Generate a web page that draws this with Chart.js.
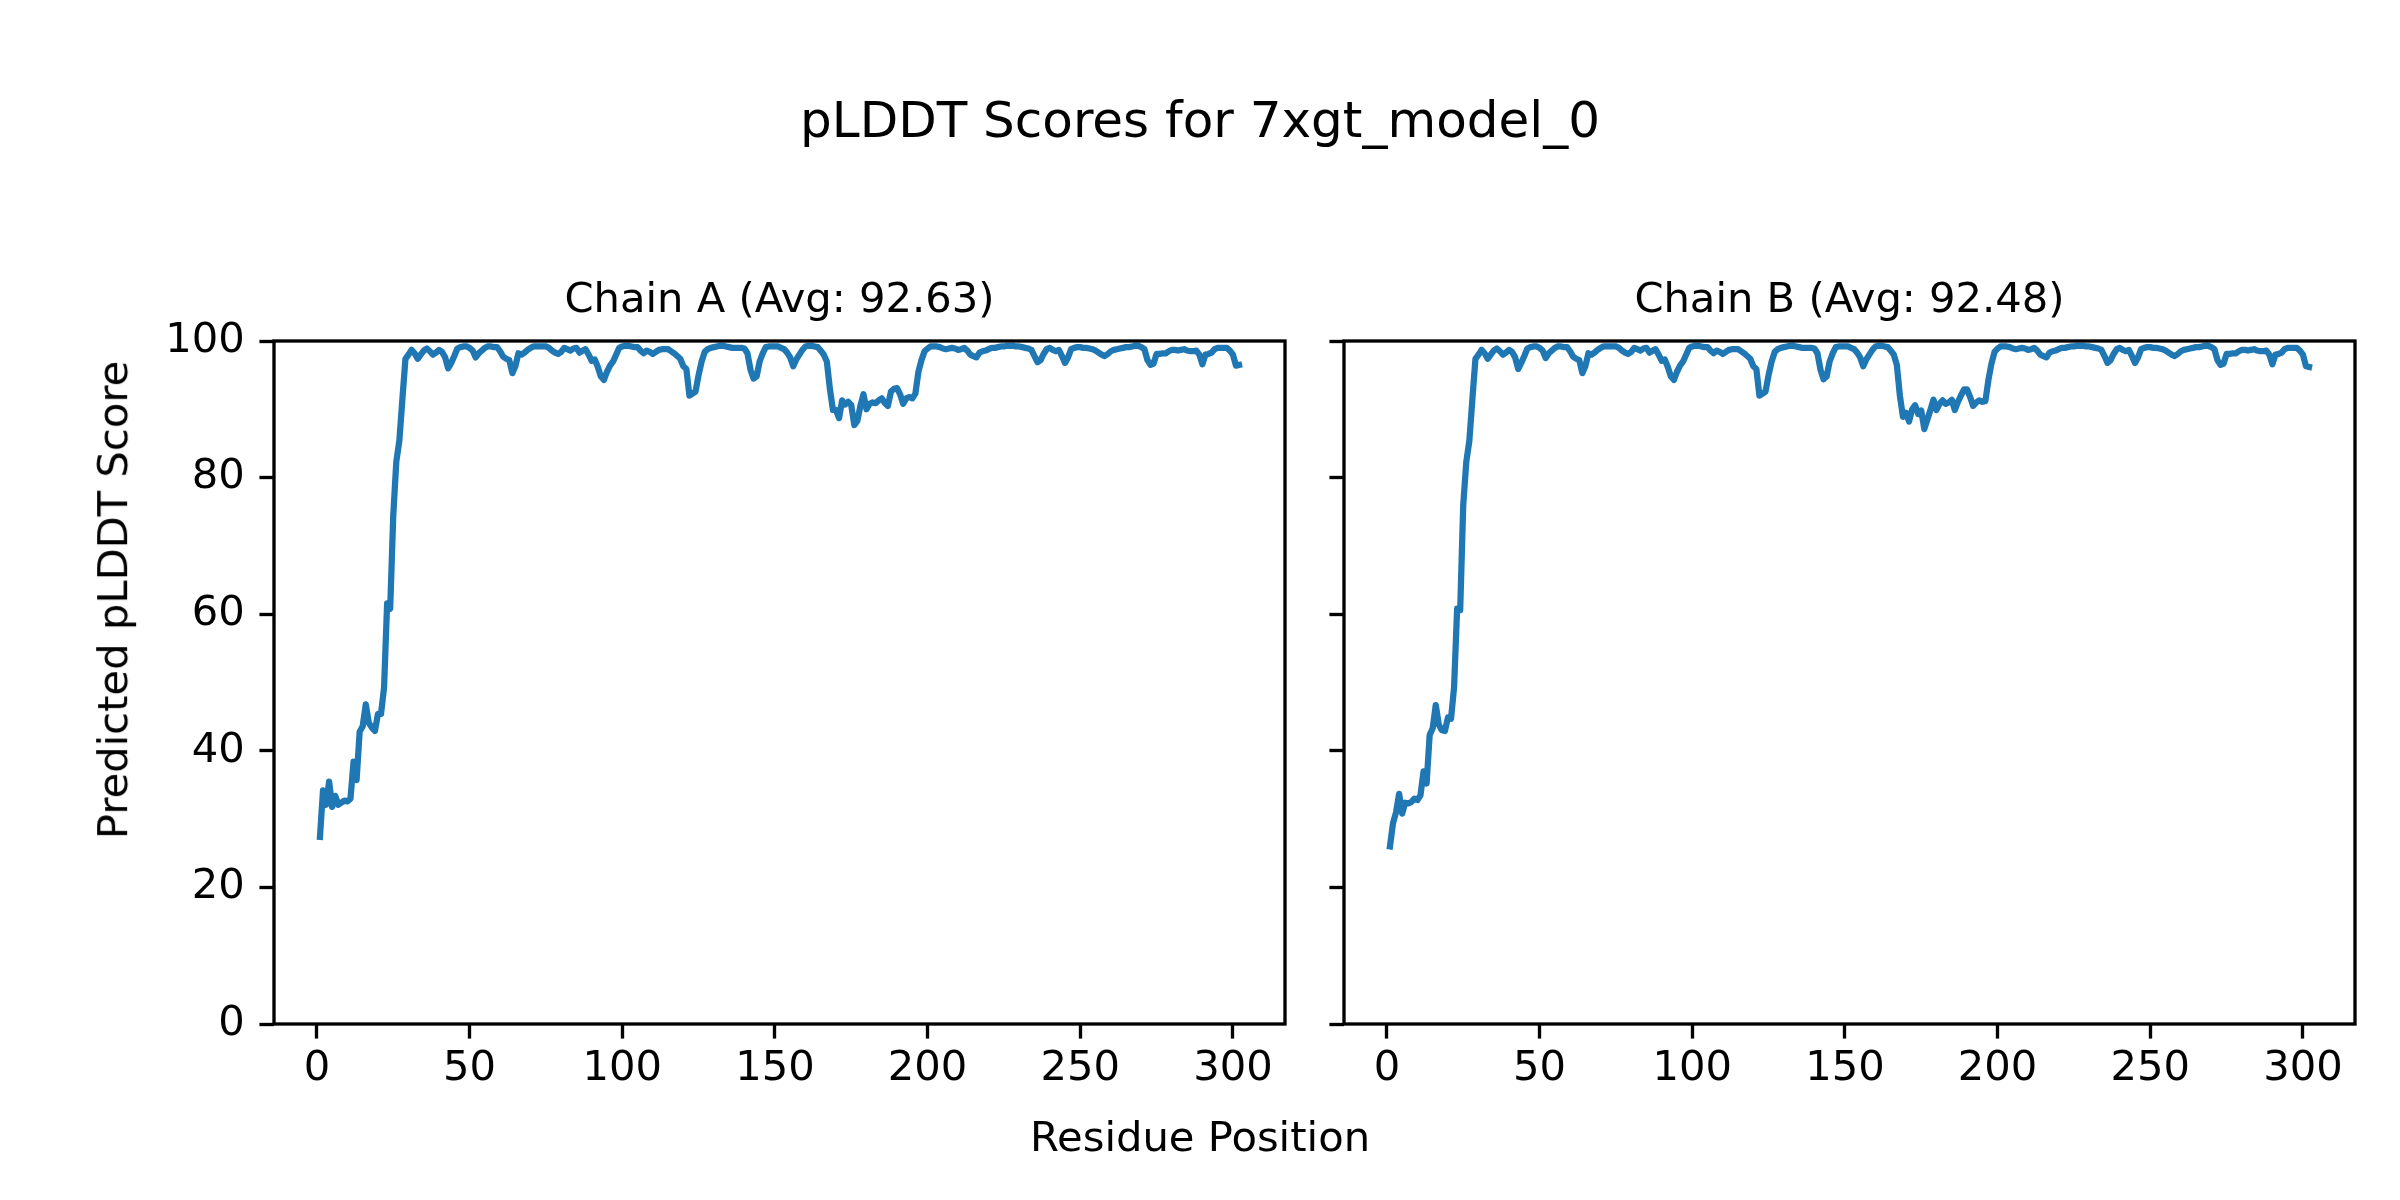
<!DOCTYPE html>
<html>
<head>
<meta charset="utf-8">
<title>pLDDT Scores for 7xgt_model_0</title>
<script src="https://cdn.jsdelivr.net/npm/chart.js@4.4.1/dist/chart.umd.min.js"></script>
<style>
  html, body { margin: 0; padding: 0; background: #fff; overflow: hidden; }
  #page { position: relative; width: 2400px; height: 1200px; font-family: 'DejaVu Sans', sans-serif; color: #000; }
  canvas { position: absolute; top: 0; }
  .txt { position: absolute; white-space: nowrap; }
</style>
</head>
<body>
<div id="page">
  <canvas id="chainA" width="1415" height="1200" style="left:0px;width:1415px;height:1200px"></canvas>
  <canvas id="chainB" width="1099" height="1200" style="left:1300px;width:1099px;height:1200px"></canvas>
  <div class="txt" id="supTitle" style="left:0;width:2400px;top:94.7px;text-align:center;font-size:50px;line-height:50px"></div>
  <div class="txt" id="supX" style="left:0;width:2400px;top:1115.7px;text-align:center;font-size:41.7px;line-height:41.7px"></div>
  <div class="txt" id="supY" style="left:113px;top:600px;font-size:41.7px;line-height:41.7px;transform:translate(-50%,-50%) rotate(-90deg)"></div>
</div>
<script>
// --- Data ---
const figureTitle = 'pLDDT Scores for 7xgt_model_0';
const xLabel = 'Residue Position';
const yLabel = 'Predicted pLDDT Score';
const chainTitles = ['Chain A (Avg: 92.63)', 'Chain B (Avg: 92.48)'];
const residueTicks = [0, 50, 100, 150, 200, 250, 300];
const scoreTicks = [0, 20, 40, 60, 80, 100];

// pLDDT per residue, residue 1..302
const chainA = [
  27.4, 34.2, 32.1, 35.5, 31.8, 33.4, 32.1, 32.4, 32.7, 32.6, // 1-10
  33.0, 38.4, 35.7, 42.8, 43.6, 46.8, 44.1, 43.4, 42.9, 45.4,
  45.4, 49.3, 61.6, 60.8, 74.4, 82.3, 85.4, 91.5, 97.4, 98.0,
  98.7, 98.2, 97.4, 98.0, 98.6, 98.9, 98.5, 98.0, 98.3, 98.7,
  98.4, 97.6, 96.0, 96.8, 97.8, 98.9, 99.1, 99.2, 99.2, 99.0, // 41-50
  98.6, 97.6, 98.2, 98.6, 99.0, 99.2, 99.2, 99.1, 99.1, 98.5,
  97.7, 97.4, 97.2, 95.3, 96.3, 98.2, 98.0, 98.3, 98.7, 99.0,
  99.2, 99.2, 99.2, 99.2, 99.2, 99.0, 98.6, 98.3, 98.1, 98.4,
  99.0, 98.8, 98.6, 98.9, 99.0, 98.3, 98.6, 98.8, 98.0, 97.1,
  97.3, 96.2, 94.8, 94.3, 95.5, 96.4, 97.0, 98.0, 99.0, 99.2, // 91-100
  99.3, 99.3, 99.2, 99.1, 99.1, 98.6, 98.2, 98.6, 98.4, 98.1,
  98.4, 98.7, 98.8, 98.8, 98.8, 98.5, 98.2, 97.8, 97.4, 96.3,
  95.9, 92.0, 92.3, 92.6, 95.0, 97.0, 98.4, 98.8, 99.0, 99.1,
  99.2, 99.3, 99.3, 99.2, 99.1, 99.0, 99.0, 99.0, 99.0, 98.9,
  98.2, 95.8, 94.5, 94.8, 97.0, 98.2, 99.1, 99.2, 99.2, 99.2, // 141-150
  99.2, 99.0, 98.8, 98.3, 97.6, 96.3, 97.3, 98.0, 98.7, 99.2,
  99.3, 99.3, 99.2, 99.1, 98.6, 98.0, 97.0, 93.0, 89.9, 89.9,
  88.7, 91.3, 90.7, 91.1, 90.6, 87.7, 88.3, 90.5, 92.2, 90.0,
  90.8, 91.0, 90.9, 91.3, 91.6, 90.9, 90.5, 92.6, 93.0, 93.1,
  92.2, 90.8, 91.6, 91.8, 91.6, 92.3, 95.5, 97.2, 98.5, 98.9, // 191-200
  99.2, 99.2, 99.2, 99.1, 98.9, 98.8, 98.9, 99.0, 98.9, 98.7,
  98.8, 99.0, 98.6, 98.0, 97.8, 97.6, 98.3, 98.5, 98.6, 98.8,
  99.0, 99.0, 99.1, 99.2, 99.2, 99.3, 99.3, 99.3, 99.2, 99.2,
  99.1, 99.0, 98.9, 98.7, 97.8, 96.9, 97.2, 98.1, 98.8, 99.0,
  98.7, 98.5, 98.7, 97.8, 96.8, 97.6, 98.8, 99.0, 99.1, 99.1, // 241-250
  99.0, 99.0, 98.9, 98.8, 98.6, 98.3, 98.0, 97.8, 98.1, 98.5,
  98.7, 98.8, 98.9, 99.0, 99.1, 99.1, 99.2, 99.3, 99.3, 99.1,
  98.8, 97.2, 96.5, 96.7, 98.1, 98.1, 98.2, 98.2, 98.5, 98.7,
  98.7, 98.6, 98.7, 98.8, 98.6, 98.5, 98.5, 98.6, 98.0, 96.6,
  98.0, 98.1, 98.3, 98.8, 99.0, 99.0, 99.0, 99.0, 98.6, 98.0, // 291-300
  96.4, 96.5
];

const chainB = [
  26.0, 29.4, 31.0, 33.7, 30.8, 32.4, 32.3, 32.5, 33.0, 32.8, // 1-10
  33.5, 37.0, 35.2, 42.3, 43.3, 46.7, 43.8, 43.0, 42.9, 44.9,
  44.7, 49.3, 60.8, 60.6, 76.0, 82.3, 85.4, 91.5, 97.4, 98.0,
  98.7, 98.2, 97.4, 98.0, 98.6, 98.9, 98.5, 98.0, 98.3, 98.7,
  98.4, 97.6, 95.9, 96.8, 97.8, 98.9, 99.1, 99.2, 99.2, 99.0, // 41-50
  98.6, 97.5, 98.2, 98.6, 99.0, 99.2, 99.2, 99.1, 99.1, 98.5,
  97.7, 97.4, 97.2, 95.3, 96.3, 98.2, 98.0, 98.3, 98.7, 99.0,
  99.2, 99.2, 99.2, 99.2, 99.2, 99.0, 98.6, 98.3, 98.1, 98.4,
  99.0, 98.8, 98.6, 98.9, 99.0, 98.3, 98.6, 98.8, 98.0, 97.1,
  97.3, 96.2, 94.8, 94.3, 95.5, 96.4, 97.0, 98.0, 99.0, 99.2, // 91-100
  99.3, 99.3, 99.2, 99.1, 99.1, 98.6, 98.2, 98.6, 98.4, 98.1,
  98.4, 98.7, 98.8, 98.8, 98.8, 98.5, 98.2, 97.8, 97.4, 96.3,
  95.9, 92.0, 92.3, 92.6, 95.0, 97.0, 98.4, 98.8, 99.0, 99.1,
  99.2, 99.3, 99.3, 99.2, 99.1, 99.0, 99.0, 99.0, 99.0, 98.9,
  98.2, 95.8, 94.4, 94.8, 97.0, 98.2, 99.1, 99.2, 99.2, 99.2, // 141-150
  99.2, 99.0, 98.8, 98.3, 97.6, 96.3, 97.3, 98.0, 98.7, 99.2,
  99.3, 99.3, 99.2, 99.1, 98.6, 98.0, 96.5, 92.0, 88.9, 89.5,
  88.2, 90.0, 90.6, 89.3, 89.8, 87.1, 88.5, 89.9, 91.4, 89.9,
  90.8, 91.3, 90.8, 91.0, 91.4, 89.9, 91.1, 92.0, 92.9, 92.9,
  91.8, 90.5, 91.0, 91.3, 91.1, 91.2, 94.3, 96.7, 98.4, 98.9, // 191-200
  99.2, 99.2, 99.2, 99.1, 98.9, 98.8, 98.9, 99.0, 98.9, 98.7,
  98.8, 99.0, 98.6, 98.0, 97.8, 97.6, 98.3, 98.5, 98.6, 98.8,
  99.0, 99.0, 99.1, 99.2, 99.2, 99.3, 99.3, 99.3, 99.2, 99.2,
  99.1, 99.0, 98.9, 98.7, 97.8, 96.8, 97.2, 98.1, 98.8, 99.0,
  98.7, 98.5, 98.7, 97.8, 96.8, 97.6, 98.8, 99.0, 99.1, 99.1, // 241-250
  99.0, 99.0, 98.9, 98.8, 98.6, 98.3, 98.0, 97.8, 98.1, 98.5,
  98.7, 98.8, 98.9, 99.0, 99.1, 99.1, 99.2, 99.3, 99.3, 99.1,
  98.8, 97.2, 96.5, 96.7, 98.1, 98.1, 98.2, 98.2, 98.5, 98.7,
  98.7, 98.6, 98.7, 98.8, 98.6, 98.5, 98.5, 98.6, 98.0, 96.6,
  98.0, 98.1, 98.3, 98.8, 99.0, 99.0, 99.0, 99.0, 98.6, 98.0, // 291-300
  96.3, 96.2
];

// --- Styling (matplotlib look at 300 dpi) ---
const FONT = "'DejaVu Sans', sans-serif";
const PT = 300 / 72;            // px per point
const LABEL_SIZE = 10 * PT;     // 41.7px
const SPINE_W = 0.8 * PT;
const TICK_LEN = 3.5 * PT;
const LINE_COLOR = '#1f77b4';
const X_MIN = -14.05, X_MAX = 317.05;

Chart.defaults.font.family = FONT;
Chart.defaults.color = '#000';

document.getElementById('supTitle').textContent = figureTitle;
document.getElementById('supX').textContent = xLabel;
document.getElementById('supY').textContent = yLabel;

// axes frame drawn on top of the line, like matplotlib spines
const framePlugin = {
    id: 'frame',
    afterDatasetsDraw(chart) {
        const { ctx, chartArea: a } = chart;
        ctx.save();
        ctx.strokeStyle = '#000';
        ctx.lineWidth = SPINE_W;
        ctx.strokeRect(a.left, a.top, a.right - a.left, a.bottom - a.top);
        ctx.restore();
    }
};

// axisW: width of the left y axis box; an empty right axis of the same width keeps
// the chain title centred over the plot area
const makeChart = (canvasId, values, title, showYLabels, padLeft, axisW) => {
    const points = values.map((v, i) => ({ x: i + 1, y: v }));
    return new Chart(document.getElementById(canvasId).getContext('2d'), {
        type: 'line',
        data: {
            datasets: [{
                data: points,
                borderColor: LINE_COLOR,
                borderWidth: 1.5 * PT,
                pointRadius: 0,
                tension: 0,
                borderJoinStyle: 'round',
                borderCapStyle: 'square',
                fill: false
            }]
        },
        options: {
            responsive: false,
            animation: false,
            devicePixelRatio: 1,
            events: [],
            layout: { padding: { left: padLeft, right: 0, top: 0, bottom: 56 } },
            plugins: {
                legend: { display: false },
                tooltip: { enabled: false },
                title: {
                    display: true,
                    text: title,
                    color: '#000',
                    font: { family: FONT, size: LABEL_SIZE, weight: 'normal', lineHeight: 1.2 },
                    padding: { top: 276.6, bottom: 14.4 }
                }
            },
            scales: {
                x: {
                    type: 'linear',
                    min: X_MIN,
                    max: X_MAX,
                    afterBuildTicks: (axis) => { axis.ticks = residueTicks.map(v => ({ value: v })); },
                    afterFit: (axis) => { axis.height = 120; },
                    border: { display: false },
                    grid: { drawOnChartArea: false, drawTicks: true, tickLength: TICK_LEN, tickWidth: SPINE_W, tickColor: '#000' },
                    ticks: { color: '#000', padding: 10, maxRotation: 0, minRotation: 0, autoSkip: false,
                             font: { family: FONT, size: LABEL_SIZE, lineHeight: 1 } }
                },
                y: {
                    type: 'linear',
                    min: 0,
                    max: 100,
                    afterBuildTicks: (axis) => { axis.ticks = scoreTicks.map(v => ({ value: v })); },
                    afterFit: (axis) => { axis.width = axisW; },
                    border: { display: false },
                    grid: { drawOnChartArea: false, drawTicks: true, tickLength: TICK_LEN, tickWidth: SPINE_W, tickColor: '#000' },
                    ticks: { display: showYLabels, color: '#000', padding: TICK_LEN,
                             font: { family: FONT, size: LABEL_SIZE, lineHeight: 1 } }
                },
                yRight: {
                    type: 'linear',
                    position: 'right',
                    afterFit: (axis) => { axis.width = axisW; },
                    border: { display: false },
                    grid: { display: false, drawTicks: false },
                    ticks: { display: false }
                }
            }
        },
        plugins: [framePlugin]
    });
};

makeChart('chainA', chainA, chainTitles[0], true, 144, 130);
makeChart('chainB', chainB, chainTitles[1], false, 0, 44);
</script>
</body>
</html>
